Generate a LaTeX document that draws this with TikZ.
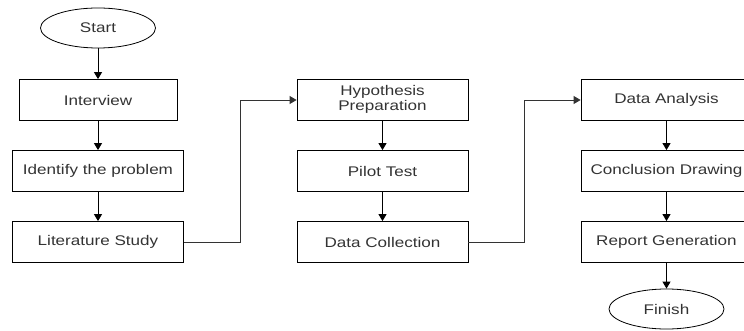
\documentclass[tikz,border=0pt]{standalone}
\usepackage{fontspec}
\setmainfont{Liberation Sans}
\usetikzlibrary{shapes.geometric,arrows.meta,calc}
\newcommand{\wx}[1]{\scalebox{1.22}[1]{#1}}
\begin{document}
\begin{tikzpicture}[x=1pt,y=-1pt,
  box/.style={draw, line width=0.8pt, minimum width=171pt, minimum height=41pt, inner sep=0pt, font=\fontsize{14}{15.5}\selectfont, text=black!80},
  term/.style={draw, ellipse, line width=0.8pt, minimum width=115pt, minimum height=40pt, inner sep=0pt, font=\fontsize{14}{15.5}\selectfont, text=black!80},
  arr/.style={line width=0.9pt, -{Triangle[length=7pt,width=8pt]}},
  link/.style={line width=0.8pt, draw=black!80, -{Triangle[length=7pt,width=8pt]}}]
\useasboundingbox (0,0) rectangle (744,331);
\clip (0,0) rectangle (744,331);
\node[term] (start) at (98,28) {\wx{Start}};
\node[box, minimum width=158pt] (int) at (98,100) {\wx{Interview}};
\node[box] (idp) at (98,171) {\wx{Identify the problem}};
\node[box] (lit) at (98,242) {\wx{Literature Study}};
\node[box] (hyp) at (382.5,100) {\wx{\begin{tabular}{@{}c@{}}Hypothesis\\Preparation\end{tabular}}};
\node[box] (pil) at (382.5,171) {\wx{Pilot Test}};
\node[box] (dc) at (382.5,242) {\wx{Data Collection}};
\node[box] (da) at (666.5,100) {\wx{Data Analysis}};
\node[box] (cd) at (666.5,171) {\wx{Conclusion Drawing}};
\node[box] (rg) at (666.5,242) {\wx{Report Generation}};
\node[term] (fin) at (666.5,309) {\wx{Finish}};
\draw[arr] (start) -- (int);
\draw[arr] (int) -- (idp);
\draw[arr] (idp) -- (lit);
\draw[arr] (hyp) -- (pil);
\draw[arr] (pil) -- (dc);
\draw[arr] (da) -- (cd);
\draw[arr] (cd) -- (rg);
\draw[arr] (rg) -- (fin);
\draw[link] (lit.east) -| ($(lit.east)!.5!(hyp.west)$) |- (hyp.west);
\draw[link] (dc.east) -| ($(dc.east)!.5!(da.west)$) |- (da.west);
\end{tikzpicture}
\end{document}
